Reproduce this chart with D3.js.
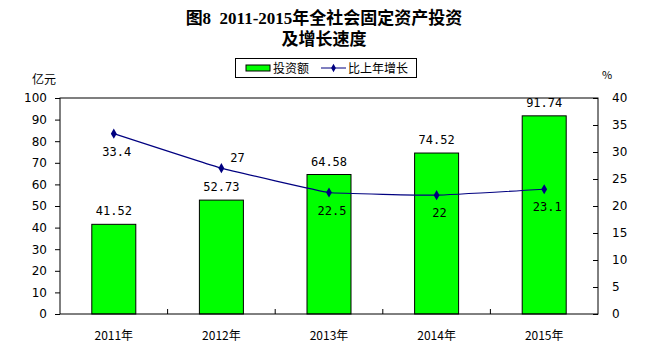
<!DOCTYPE html>
<html>
<head>
<meta charset="utf-8">
<script src="https://cdn.jsdelivr.net/npm/d3@7"></script>
<style>
  body { margin: 0; background: #fff; }
  text { font-family: "Noto Sans CJK SC", "DejaVu Sans", sans-serif; white-space: pre; }
  .num { font-family: "DejaVu Sans Mono", monospace; font-size: 12px; }
</style>
</head>
<body>
<svg id="chart" width="649" height="362"></svg>
<script>
// data
var years = ["2011年", "2012年", "2013年", "2014年", "2015年"];
var invest = [41.52, 52.73, 64.58, 74.52, 91.74];
var growth = [33.4, 27, 22.5, 22, 23.1];
var leftTicks = [0, 10, 20, 30, 40, 50, 60, 70, 80, 90, 100];
var rightTicks = [0, 5, 10, 15, 20, 25, 30, 35, 40];

var svg = d3.select("#chart");
var pLeft = 60, pRight = 598, pTop = 98, pBottom = 314;

var x = d3.scaleBand().domain(years).range([pLeft, pRight]);
var yL = d3.scaleLinear().domain([0, 100]).range([pBottom, pTop]);
var yR = d3.scaleLinear().domain([0, 40]).range([pBottom, pTop]);

// title
var titleFont = "'Liberation Serif', 'Noto Sans CJK SC', serif";
svg.append("text").attr("x", 324).attr("y", 24).attr("text-anchor", "middle")
  .style("font-size", "17px").style("font-weight", "bold")
  .style("font-family", titleFont)
  .text("图8  2011-2015年全社会固定资产投资");
svg.append("text").attr("x", 324).attr("y", 45).attr("text-anchor", "middle")
  .style("font-size", "17px").style("font-weight", "bold")
  .style("font-family", titleFont)
  .text("及增长速度");

// legend
var lg = svg.append("g");
lg.append("rect").attr("x", 235.5).attr("y", 58.5).attr("width", 181).attr("height", 19)
  .attr("fill", "#fff").attr("stroke", "#000");
lg.append("rect").attr("x", 246).attr("y", 65).attr("width", 24).attr("height", 6)
  .attr("fill", "#00ff00").attr("stroke", "#000");
lg.append("text").attr("x", 273).attr("y", 73).style("font-size", "12px").text("投资额");
lg.append("line").attr("x1", 321).attr("x2", 346).attr("y1", 68).attr("y2", 68)
  .attr("stroke", "#000080");
lg.append("path").attr("d", d3.symbol(d3.symbolDiamond, 20)()).attr("transform", "translate(333.5,68)")
  .attr("fill", "#000080");
lg.append("text").attr("x", 348).attr("y", 73).style("font-size", "12px").text("比上年增长");

// unit labels
svg.append("text").attr("x", 32).attr("y", 84).style("font-size", "12px").text("亿元");
svg.append("text").attr("x", 602).attr("y", 79).style("font-size", "11px").text("%");

// bars
var bw = 44;
svg.selectAll(".bar").data(invest).enter().append("rect")
  .attr("x", function(d, i) { return x(years[i]) + x.bandwidth() / 2 - bw / 2; })
  .attr("y", function(d) { return yL(d); })
  .attr("width", bw)
  .attr("height", function(d) { return pBottom - yL(d); })
  .attr("fill", "#00ff00").attr("stroke", "#000");

svg.selectAll(".blab").data(invest).enter().append("text")
  .attr("class", "num")
  .attr("x", function(d, i) { return x(years[i]) + x.bandwidth() / 2; })
  .attr("y", function(d) { return yL(d) - 9; })
  .attr("text-anchor", "middle")
  .text(function(d) { return d.toFixed(2); });

// plot frame
svg.append("rect").attr("x", pLeft).attr("y", pTop).attr("width", pRight - pLeft)
  .attr("height", pBottom - pTop).attr("fill", "none").attr("stroke", "#000");

// left axis
var la = svg.append("g").attr("transform", "translate(" + pLeft + ",0)")
  .call(d3.axisLeft(yL).tickValues(leftTicks).tickSize(5).tickPadding(8));
la.select(".domain").remove();
la.selectAll("text").style("font-size", "12px").attr("fill", "#000").style("font-family", "'DejaVu Sans', sans-serif");

// right axis (ticks inside)
var ra = svg.append("g").attr("transform", "translate(" + pRight + ",0)")
  .call(d3.axisRight(yR).tickValues(rightTicks).tickSize(-5).tickPadding(14));
ra.select(".domain").remove();
ra.selectAll("text").style("font-size", "12px").attr("fill", "#000").style("font-family", "'DejaVu Sans', sans-serif");

// category boundary ticks (pointing up)
svg.selectAll(".ctick").data(years.slice(1)).enter().append("line")
  .attr("x1", function(d) { return x(d); }).attr("x2", function(d) { return x(d); })
  .attr("y1", pBottom).attr("y2", pBottom - 5).attr("stroke", "#000");

svg.selectAll(".xlab").data(years).enter().append("text")
  .attr("x", function(d) { return x(d) + x.bandwidth() / 2; })
  .attr("y", 340).attr("text-anchor", "middle").style("font-size", "12px")
  .text(function(d) { return d; });

// growth line (mild smoothing, like the original)
var pts = growth.map(function(d, i) { return [x(years[i]) + x.bandwidth() / 2, yR(d)]; });
svg.append("path").attr("d", d3.line().curve(d3.curveCardinal.tension(0.75))(pts))
  .attr("fill", "none").attr("stroke", "#000080").attr("stroke-width", 1.2);
svg.selectAll(".pt").data(pts).enter().append("path")
  .attr("d", d3.symbol(d3.symbolDiamond, 30)())
  .attr("transform", function(d) { return "translate(" + d[0] + "," + d[1] + ")"; })
  .attr("fill", "#000080");
// 2012 label sits above-right of its point (bar label is right below it)
svg.selectAll(".glab").data(growth).enter().append("text")
  .attr("class", "num")
  .attr("x", function(d, i) { return pts[i][0] + (i === 1 ? 16 : 3); })
  .attr("y", function(d, i) { return pts[i][1] + (i === 1 ? -6 : 22); })
  .attr("text-anchor", "middle")
  .text(function(d) { return d; });
</script>
</body>
</html>
